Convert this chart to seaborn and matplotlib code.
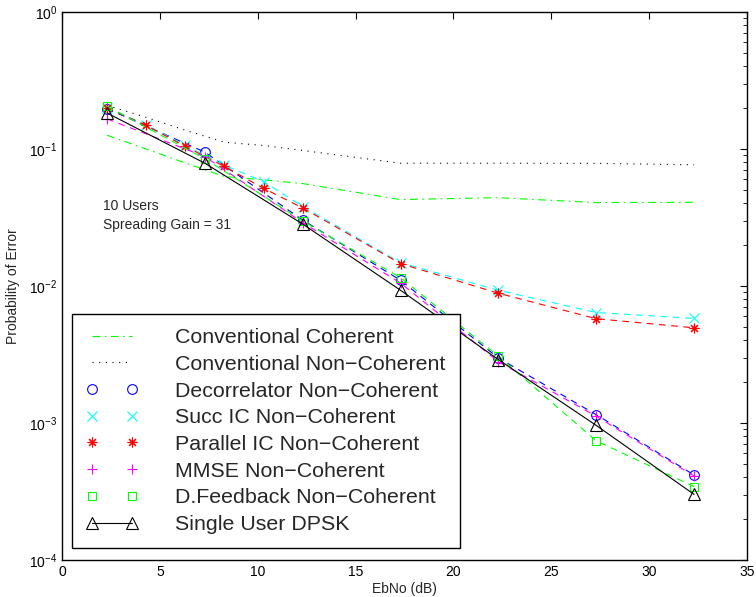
import numpy as np
import pandas as pd
import matplotlib
matplotlib.use("Agg")
import matplotlib.pyplot as plt
import seaborn as sns
from matplotlib.lines import Line2D
from matplotlib.ticker import LogLocator, NullFormatter

sns.set_theme(style="white")
plt.rcParams['font.family'] = ['Liberation Sans', 'DejaVu Sans']
plt.rcParams['mathtext.fontset'] = 'custom'
plt.rcParams['mathtext.rm'] = 'Liberation Sans'

# ---- data ----
x_fine = [2.3, 4.3, 6.3, 8.3, 10.3, 12.3, 17.3, 22.3, 27.3, 32.3]
x_coarse = [2.3, 7.3, 12.3, 17.3, 22.3, 27.3, 32.3]

conv_coh = [0.126, 0.100, 0.079, 0.063, 0.0595, 0.0559, 0.0427, 0.0441, 0.0406, 0.0408]
conv_noncoh = [0.208, 0.170, 0.137, 0.112, 0.106, 0.0975, 0.0787, 0.0787, 0.0785, 0.0766]
succ_ic = [0.200, 0.150, 0.106, 0.076, 0.0578, 0.038, 0.0148, 0.0093, 0.0064, 0.0058]
par_ic = [0.200, 0.1487, 0.1043, 0.0745, 0.0516, 0.0371, 0.01456, 0.00885, 0.00577, 0.00495]

decorr = [0.197, 0.0948, 0.0303, 0.0110, 0.00298, 0.00115, 0.000417]
mmse = [0.166, 0.088, 0.0290, 0.0105, 0.00280, 0.00112, 0.000410]
dfb = [0.205, 0.0848, 0.0298, 0.0115, 0.00307, 0.000741, 0.000343]
single = [0.183, 0.0787, 0.0283, 0.0093, 0.00290, 0.00096, 0.000301]

labels = ["Conventional Coherent", "Conventional Non\u2212Coherent",
          "Decorrelator Non\u2212Coherent", "Succ IC Non\u2212Coherent",
          "Parallel IC Non\u2212Coherent", "MMSE Non\u2212Coherent",
          "D.Feedback Non\u2212Coherent", "Single User DPSK"]

fig, ax = plt.subplots(figsize=(7.56, 5.97), dpi=100)
fig.subplots_adjust(left=0.082, right=0.988, top=0.980, bottom=0.062)

lw = 0.8
ms = 7
star = (8, 2, 0)

sns.lineplot(x=x_fine, y=conv_coh, ax=ax, color=(0, 1, 0), lw=lw,
             linestyle=(0, (7, 4, 1.5, 4)), sort=False)
sns.lineplot(x=x_fine, y=conv_noncoh, ax=ax, color='black', lw=lw,
             linestyle=(0, (1, 5)), sort=False)

series = [
    (x_coarse, decorr, (0, 0, 1), 'o'),
    (x_fine, succ_ic, (0, 1, 1), 'x'),
    (x_fine, par_ic, (1, 0, 0), star),
    (x_coarse, mmse, (1, 0, 1), '+'),
    (x_coarse, dfb, (0, 1, 0), 's'),
]
for xs, ys, c, m in series:
    sns.lineplot(x=xs, y=ys, ax=ax, color=c, lw=lw, linestyle=(0, (6, 5)), sort=False)
    mk = dict(marker=m, markersize=ms if m != 's' else 6, markeredgewidth=0.8,
              markeredgecolor=c, markerfacecolor='none', linestyle='none')
    ax.plot(xs, ys, color=c, **mk)

sns.lineplot(x=x_coarse, y=single, ax=ax, color='black', lw=lw, sort=False)
ax.plot(x_coarse, single, color='black', marker='^', markersize=ms + 1,
        markerfacecolor='none', markeredgewidth=0.8, linestyle='none')

ax.set_yscale('log')
ax.set_xlim(0, 35)
ax.set_ylim(1e-4, 1)
ax.set_xticks(np.arange(0, 36, 5))
ax.yaxis.set_major_locator(LogLocator(base=10, numticks=10))
ax.yaxis.set_minor_locator(LogLocator(base=10, subs=np.arange(2, 10), numticks=20))
ax.yaxis.set_minor_formatter(NullFormatter())
ax.tick_params(axis='both', which='both', direction='in', top=True, right=True,
               labelsize=10, colors='black')
ax.tick_params(which='major', length=5, width=0.8)
ax.tick_params(which='minor', length=3, width=0.6)
for s in ax.spines.values():
    s.set_color('black')
    s.set_linewidth(1.0)

ax.set_xlabel("EbNo (dB)", fontsize=10, labelpad=2)
ax.set_ylabel("Probability of Error", fontsize=10, labelpad=6)

ax.text(2.1, 0.0386, "10 Users", fontsize=10, va='center', ha='left')
ax.text(2.1, 0.0280, "Spreading Gain = 31", fontsize=10, va='center', ha='left')

handles = [
    Line2D([], [], color=(0, 1, 0), lw=lw, linestyle=(0, (7, 4, 1.5, 4))),
    Line2D([], [], color='black', lw=lw, linestyle=(0, (1, 5))),
    Line2D([], [], color=(0, 0, 1), marker='o', markersize=ms, markerfacecolor='none', linestyle='none', markeredgewidth=0.8),
    Line2D([], [], color=(0, 1, 1), marker='x', markersize=ms, linestyle='none', markeredgewidth=0.8),
    Line2D([], [], color=(1, 0, 0), marker=star, markersize=ms, linestyle='none', markeredgewidth=0.8),
    Line2D([], [], color=(1, 0, 1), marker='+', markersize=ms, linestyle='none', markeredgewidth=0.8),
    Line2D([], [], color=(0, 1, 0), marker='s', markersize=6, markerfacecolor='none', linestyle='none', markeredgewidth=0.8),
    Line2D([], [], color='black', marker='^', markersize=ms + 1, markerfacecolor='none', lw=lw, markeredgewidth=0.8),
]
leg = ax.legend(handles, labels, loc='lower left', bbox_to_anchor=(0.0145, 0.022),
                fontsize=15.4, numpoints=2, handlelength=2.48, handletextpad=1.7,
                labelspacing=0.36, borderpad=0.65, fancybox=False, framealpha=1,
                edgecolor='black', borderaxespad=0)
leg.get_frame().set_linewidth(1.0)

fig.savefig("out.png", dpi=100)
